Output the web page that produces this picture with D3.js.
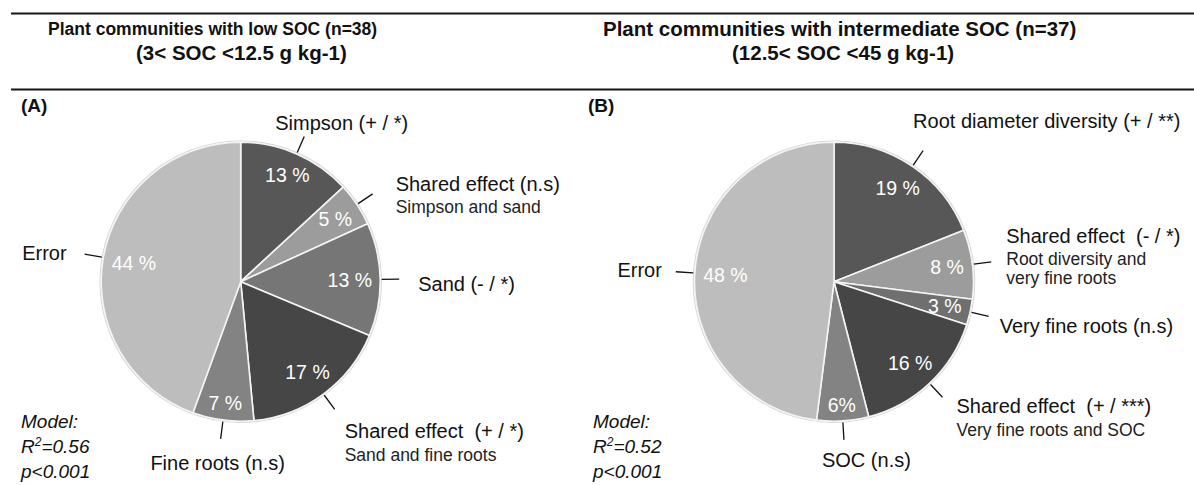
<!DOCTYPE html>
<html>
<head>
<meta charset="utf-8">
<script src="https://cdn.jsdelivr.net/npm/d3@7/dist/d3.min.js"></script>
<style>
  html, body { margin: 0; padding: 0; background: #fff; }
  svg { display: block; font-family: "Liberation Sans", Arial, sans-serif; }
  text { white-space: pre; }
</style>
</head>
<body>
<svg id="chart" width="1194" height="485"></svg>
<script>
// ---- Panel A: plant communities with low SOC ----
const partsA = ["Simpson", "Simpson x sand", "Sand", "Sand x fine roots", "Fine roots", "Error"];
const valuesA = [13, 5, 13, 17, 7, 44];
const suffixA = [" %", " %", " %", " %", " %", " %"];
const calloutA = [
  ["Simpson (+ / *)"],
  ["Shared effect (n.s)", "Simpson and sand"],
  ["Sand (- / *)"],
  ["Shared effect  (+ / *)", "Sand and fine roots"],
  ["Fine roots (n.s)"],
  ["Error"]
];
const shadesA = ["#575757", "#9c9c9c", "#767676", "#464646", "#838383", "#bdbdbd"];

// ---- Panel B: plant communities with intermediate SOC ----
const partsB = ["Root diameter diversity", "Root diversity x very fine roots", "Very fine roots", "Very fine roots x SOC", "SOC", "Error"];
const valuesB = [19, 8, 3, 16, 6, 48];
const suffixB = [" %", " %", " %", " %", "%", " %"];
const calloutB = [
  ["Root diameter diversity (+ / **)"],
  ["Shared effect  (- / *)", "Root diversity and", "very fine roots"],
  ["Very fine roots (n.s)"],
  ["Shared effect  (+ / ***)", "Very fine roots and SOC"],
  ["SOC (n.s)"],
  ["Error"]
];
const shadesB = ["#575757", "#9c9c9c", "#6f6f6f", "#464646", "#838383", "#bdbdbd"];

const svg = d3.select("#chart");
const ink = "#111";

// header rules
[13.5, 89.5].forEach(y => {
  svg.append("line").attr("x1", 11).attr("x2", 1194).attr("y1", y).attr("y2", y)
    .attr("stroke", "#151515").attr("stroke-width", 2.2);
});

// panel titles
const titles = [
  { x: 48, y: 35, size: 17.5, t: "Plant communities with low SOC (n=38)" },
  { x: 136, y: 59.5, size: 20.5, t: "(3< SOC <12.5 g kg-1)" },
  { x: 603, y: 36, size: 20.5, t: "Plant communities with intermediate SOC (n=37)" },
  { x: 732, y: 59.5, size: 20.5, t: "(12.5< SOC <45 g kg-1)" }
];
titles.forEach(d => {
  svg.append("text").attr("x", d.x).attr("y", d.y).attr("font-size", d.size)
    .attr("font-weight", "bold").attr("fill", ink).text(d.t);
});

// callout placement relative to the end of each leader line
const layoutA = [
  { anchor: "start", dx: -29, dy: -6 },
  { anchor: "start", dx: 23, dy: -3 },
  { anchor: "start", dx: 19, dy: 12 },
  { anchor: "start", dx: 10, dy: 29 },
  { anchor: "middle", dx: -3, dy: 31 },
  { anchor: "end", dx: -18, dy: 6 }
];
const layoutB = [
  { anchor: "start", dx: -10, dy: -23 },
  { anchor: "start", dx: 15, dy: -19 },
  { anchor: "start", dx: 11, dy: 17 },
  { anchor: "start", dx: 14, dy: 16 },
  { anchor: "start", dx: -22, dy: 27 },
  { anchor: "end", dx: -14, dy: 5 }
];

function drawPanel(opts) {
  const { cx, cy, r, parts, values, suffix, callouts, shades, layout, tag, tagX, r2, modelX } = opts;
  const g = svg.append("g").attr("transform", `translate(${cx},${cy})`);
  const data = parts.map((p, i) => ({ part: p, value: values[i], suffix: suffix[i], callout: callouts[i], shade: shades[i], layout: layout[i] }));
  const pie = d3.pie().sort(null).value(d => d.value);
  const arcs = pie(data);
  const arc = d3.arc().innerRadius(0).outerRadius(r);

  // soft rim behind the pie
  g.append("circle").attr("r", r + 1.2).attr("fill", "none").attr("stroke", "#d8d8d8").attr("stroke-width", 1.2);

  g.selectAll("path.slice").data(arcs).join("path")
    .attr("class", "slice")
    .attr("d", arc)
    .attr("fill", d => d.data.shade)
    .attr("stroke", "#f4f4f4")
    .attr("stroke-width", 1.6)
    .attr("stroke-linejoin", "round");

  // percentage labels, set inside the outer end of each slice
  const pad = 8, capHalf = 7;
  arcs.forEach(a => {
    const mid = (a.startAngle + a.endAngle) / 2;
    const ux = Math.sin(mid), uy = -Math.cos(mid);
    const t = g.append("text").attr("font-size", 19.5).attr("fill", "#fff")
      .attr("text-anchor", "middle").text(a.data.value + a.data.suffix);
    const hw = t.node().getComputedTextLength() / 2;
    const d = r - pad - (hw * Math.abs(ux) + capHalf * Math.abs(uy));
    t.attr("x", ux * d).attr("y", uy * d + capHalf);
  });

  // leader lines and callouts
  const r0 = r + 1.5, r1 = r + 19;
  arcs.forEach(a => {
    const mid = (a.startAngle + a.endAngle) / 2;
    const ux = Math.sin(mid), uy = -Math.cos(mid);
    g.append("line")
      .attr("x1", ux * r0).attr("y1", uy * r0)
      .attr("x2", ux * r1).attr("y2", uy * r1)
      .attr("stroke", "#111").attr("stroke-width", 1.3);
    const px = ux * r1, py = uy * r1;
    const L = a.data.layout;
    const t = g.append("text").attr("text-anchor", L.anchor).attr("fill", ink);
    a.data.callout.forEach((line, i) => {
      const dyLine = i === 0 ? 0 : (i === 1 ? 22.5 : 18.5);
      t.append("tspan")
        .attr("x", px + L.dx)
        .attr("dy", dyLine)
        .attr("font-size", i === 0 ? 20 : 17.5)
        .attr("fill", i === 0 ? ink : "#222")
        .text(line);
    });
    t.attr("y", py + L.dy);
  });

  // panel tag
  svg.append("text").attr("x", tagX).attr("y", 112).attr("font-size", 19)
    .attr("font-weight", "bold").attr("fill", ink).text(tag);

  // model summary
  const m = svg.append("g").attr("font-style", "italic").attr("font-size", 19).attr("fill", ink);
  m.append("text").attr("x", modelX).attr("y", 428).text("Model:");
  const rt = m.append("text").attr("x", modelX).attr("y", 453);
  rt.append("tspan").text("R");
  rt.append("tspan").attr("font-size", 12).attr("dy", -7).text("2");
  rt.append("tspan").attr("dy", 7).text("=" + r2);
  m.append("text").attr("x", modelX).attr("y", 478).text("p<0.001");
}

drawPanel({ cx: 240.7, cy: 281.7, r: 139.5, parts: partsA, values: valuesA, suffix: suffixA,
  callouts: calloutA, shades: shadesA, layout: layoutA, tag: "(A)", tagX: 21, r2: "0.56", modelX: 21 });
drawPanel({ cx: 834, cy: 281.7, r: 139.5, parts: partsB, values: valuesB, suffix: suffixB,
  callouts: calloutB, shades: shadesB, layout: layoutB, tag: "(B)", tagX: 588, r2: "0.52", modelX: 593 });
</script>
</body>
</html>
